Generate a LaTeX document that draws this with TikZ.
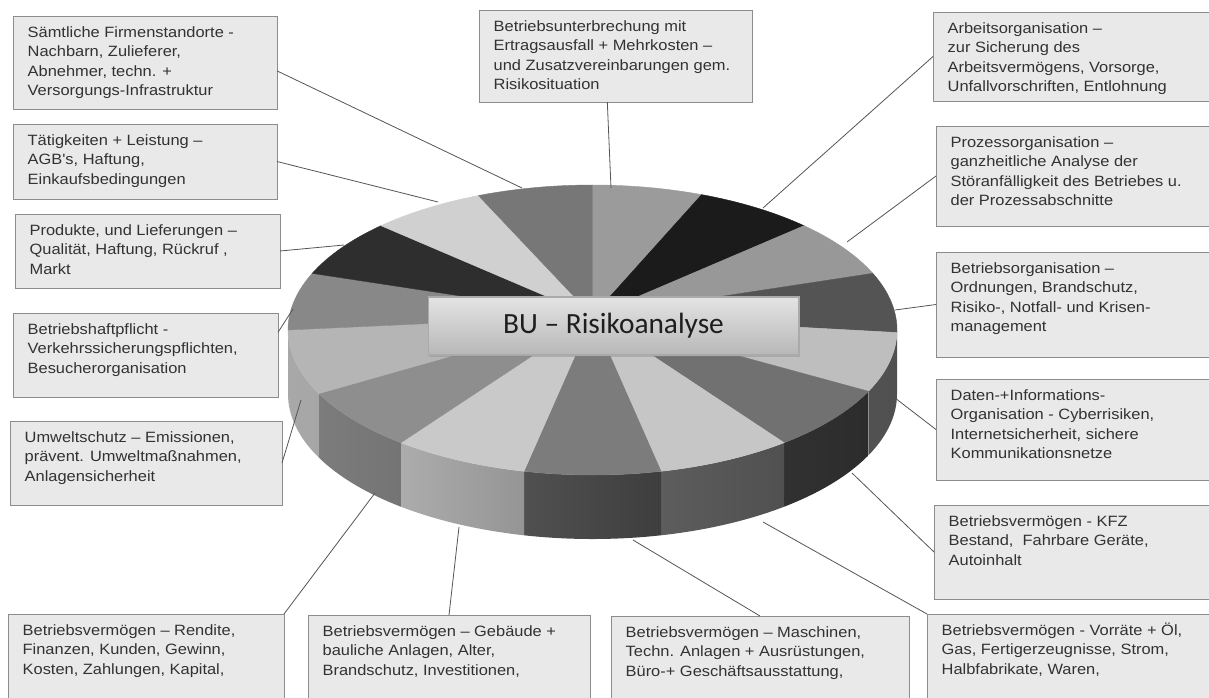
\documentclass[tikz,border=0pt]{standalone}
\usepackage{fontspec}
\setmainfont{Liberation Sans}
\newfontfamily\boxfont[FakeStretch=1.1]{Liberation Sans}
\newfontfamily\titlefont{Carlito}
\usetikzlibrary{calc,shadows}

\newdimen\pxu \pxu=0.75pt
\newcommand{\infotext}[3]{\parbox[c][\dimexpr#2\pxu-12pt\relax][t]{\dimexpr#1\pxu-22pt\relax}{\raggedright\strut #3}}

\tikzset{
	infobox/.style={draw={rgb, 255:red, 140; green, 140; blue, 140}, fill={rgb, 255:red, 233; green, 233; blue, 233}, line width=0.75pt, anchor=north west, inner xsep=11pt, inner ysep=6pt, outer sep=0pt, text={rgb, 255:red, 50; green, 50; blue, 50}, font=\boxfont\fontsize{11.2}{14.5}\selectfont},
	titlebox/.style={draw={rgb, 255:red, 170; green, 170; blue, 170}, line width=1pt, top color={rgb, 255:red, 228; green, 228; blue, 228}, bottom color={rgb, 255:red, 183; green, 183; blue, 183}, minimum width=278pt, minimum height=43.5pt, inner sep=0pt, font=\titlefont\fontsize{22}{26}\selectfont, text={rgb, 255:red, 30; green, 30; blue, 30}, drop shadow={opacity=0.35, shadow xshift=1pt, shadow yshift=-1.5pt}},
	conn/.style={draw={rgb, 255:red, 85; green, 85; blue, 85}, line width=0.6pt}}
\tikzset{every picture/.style={line width=0.75pt}}

\begin{document}
\begin{tikzpicture}[x=0.75pt,y=0.75pt,yscale=-1,xscale=1]
	\useasboundingbox (0,0) rectangle (1209,697);
	\fill[white] (0,0) rectangle (1209,697);
	\clip (0,0) rectangle (1209,697);

	%Shape: Pie sides
	\foreach \a/\b/\l/\r in {0/25/96/80, 25/51/60/44, 51/77/100/80, 77/103/80/62, 103/129/172/136, 129/154/124/98, 154/180/168/150}{
		\shade[left color={rgb, 255:red, \l; green, \l; blue, \l}, right color={rgb, 255:red, \r; green, \r; blue, \r}] (592.5,330) ++(\a:304.5 and 145) arc[start angle=\a, end angle=\b, x radius=304.5, y radius=145] -- ++(0,64) arc[start angle=\b, end angle=\a, x radius=304.5, y radius=145] -- cycle ;
	}
	%Shape: Pie top
	\foreach \a/\b/\g in {-90/-69/155, -69/-46/27, -46/-23/152, -23/1/84, 1/25/190, 25/51/113, 51/77/198, 77/103/124, 103/129/201, 129/154/142, 154/180/181, 180/203/136, 203/226/46, 226/248/208, 248/270/119}{
		\draw[fill={rgb, 255:red, \g; green, \g; blue, \g}, draw={rgb, 255:red, \g; green, \g; blue, \g}, line width=0.3pt] (592.5,316) -- ($(592.5,330)+(\a:304.5 and 145)$) arc[start angle=\a, end angle=\b, x radius=304.5, y radius=145] -- cycle ;
	}

	% Text Node
	\node[titlebox] (bu) at (613.5,326) {BU – Risikoanalyse};

	% Text Node
	\node[infobox] (b1) at (13,16) {\infotext{264}{93}{Sämtliche Firmenstandorte -\\Nachbarn, Zulieferer,\\Abnehmer, techn. +\\Versorgungs-Infrastruktur}};
	% Text Node
	\node[infobox] (b2) at (13,124) {\infotext{264}{75}{Tätigkeiten + Leistung –\\AGB's, Haftung,\\Einkaufsbedingungen}};
	% Text Node
	\node[infobox] (b3) at (15,214) {\infotext{265}{74}{Produkte, und Lieferungen –\\Qualität, Haftung, Rückruf ,\\Markt}};
	% Text Node
	\node[infobox] (b4) at (13,313) {\infotext{265}{84}{Betriebshaftpflicht -\\Verkehrssicherungspflichten,\\Besucherorganisation}};
	% Text Node
	\node[infobox] (b5) at (10,421) {\infotext{272}{84}{Umweltschutz – Emissionen,\\prävent. Umweltmaßnahmen,\\Anlagensicherheit}};
	% Text Node
	\node[infobox] (b6) at (8,614) {\infotext{276}{100}{Betriebsvermögen – Rendite,\\Finanzen, Kunden, Gewinn,\\Kosten, Zahlungen, Kapital,}};
	% Text Node
	\node[infobox] (b7) at (308,615) {\infotext{282}{100}{Betriebsvermögen – Gebäude +\\bauliche Anlagen, Alter,\\Brandschutz, Investitionen,}};
	% Text Node
	\node[infobox] (b8) at (611,616) {\infotext{298}{100}{Betriebsvermögen – Maschinen,\\Techn. Anlagen + Ausrüstungen,\\Büro-+ Geschäftsausstattung,}};
	% Text Node
	\node[infobox] (b9) at (927,614) {\infotext{290}{100}{Betriebsvermögen - Vorräte + Öl,\\Gas, Fertigerzeugnisse, Strom,\\Halbfabrikate, Waren,}};
	% Text Node
	\node[infobox] (b10) at (934,505) {\infotext{282}{94}{Betriebsvermögen - KFZ\\Bestand,\ \ Fahrbare Geräte,\\Autoinhalt}};
	% Text Node
	\node[infobox] (b11) at (936,379) {\infotext{280}{101}{Daten-+Informations-\\Organisation - Cyberrisiken,\\Internetsicherheit, sichere\\Kommunikationsnetze}};
	% Text Node
	\node[infobox] (b12) at (936,252) {\infotext{280}{105}{Betriebsorganisation –\\Ordnungen, Brandschutz,\\Risiko-, Notfall- und Krisen-\\management}};
	% Text Node
	\node[infobox] (b13) at (936,126) {\infotext{280}{100}{Prozessorganisation –\\ganzheitliche Analyse der\\Störanfälligkeit des Betriebes u.\\der Prozessabschnitte}};
	% Text Node
	\node[infobox] (b14) at (933,12) {\infotext{282}{89}{Arbeitsorganisation –\\zur Sicherung des\\Arbeitsvermögens, Vorsorge,\\Unfallvorschriften, Entlohnung}};
	% Text Node
	\node[infobox] (b15) at (479,10) {\infotext{273}{92}{Betriebsunterbrechung mit\\Ertragsausfall + Mehrkosten –\\und Zusatzvereinbarungen gem.\\Risikosituation}};

	% Pie ends of the connectors
	\coordinate (p1) at (522,188);
	\coordinate (p2) at (438,202);
	\coordinate (p3) at (344,245);
	\coordinate (p4) at (293,309);
	\coordinate (p5) at (301,400);
	\coordinate (p6) at (375,493);
	\coordinate (p7) at (459,527);
	\coordinate (p8) at (633,540);
	\coordinate (p9) at (763,522);
	\coordinate (p10) at (852,473);
	\coordinate (p11) at (895,398);
	\coordinate (p12) at (895,310);
	\coordinate (p13) at (847,242);
	\coordinate (p14) at (763,208);
	\coordinate (p15) at (611,188);

	%Straight Lines
	\draw[conn] ($(b1.north east)!.59!(b1.south east)$) -- (p1) ;
	\draw[conn] (b2.east) -- (p2) ;
	\draw[conn] (b3.east) -- (p3) ;
	\draw[conn] ($(b4.north east)!.23!(b4.south east)$) -- (p4) ;
	\draw[conn] (b5.east) -- (p5) ;
	\draw[conn] (b6.north east) -- (p6) ;
	\draw[conn] (b7.north) -- (p7) ;
	\draw[conn] (b8.north) -- (p8) ;
	\draw[conn] (b9.north west) -- (p9) ;
	\draw[conn] (b10.west) -- (p10) ;
	\draw[conn] (b11.west) -- (p11) ;
	\draw[conn] (b12.west) -- (p12) ;
	\draw[conn] (b13.west) -- (p13) ;
	\draw[conn] (b14.west) -- (p14) ;
	\draw[conn] ($(b15.south west)!.47!(b15.south east)$) -- (p15) ;

\end{tikzpicture}
\end{document}
